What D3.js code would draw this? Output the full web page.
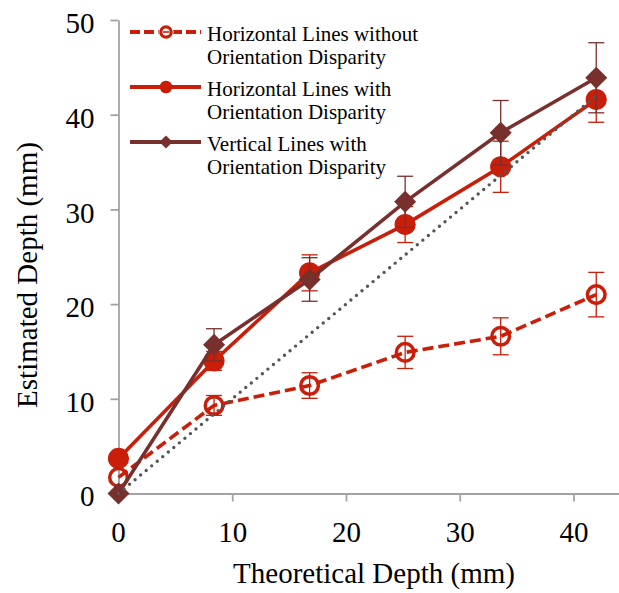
<!DOCTYPE html>
<html>
<head>
<meta charset="utf-8">
<script src="https://cdn.jsdelivr.net/npm/d3@7"></script>
<style>
  html, body { margin: 0; padding: 0; background: #fff; }
  svg { display: block; }
  text { font-family: "Liberation Serif", "Times New Roman", serif; fill: #000; }
</style>
</head>
<body>
<svg id="chart" width="619" height="593"></svg>
<script>
// Theoretical depth of each stimulus (mm)
const theoretical = [0, 8.4, 16.8, 25.2, 33.6, 42];

// Mean estimated depth (mm) and error bar half-widths for each condition
const horizNoDisp = [1.7, 9.3, 11.4, 14.9, 16.6, 21.0];
const horizNoDispErr = [0, 1.05, 1.35, 1.7, 1.95, 2.35];

const horizDisp = [3.7, 14.0, 23.3, 28.4, 34.5, 41.6];
const horizDispErr = [0, 1.0, 1.9, 1.9, 2.7, 2.4];

const vertDisp = [0, 15.7, 22.6, 30.8, 38.1, 43.9];
const vertDispErr = [0, 1.7, 2.3, 2.7, 3.4, 3.7];

const seriesNames = [
  ["Horizontal Lines without", "Orientation Disparity"],
  ["Horizontal Lines with", "Orientation Disparity"],
  ["Vertical Lines with", "Orientation Disparity"]
];

const xTicks = [10, 20, 30, 40];
const yTicks = [10, 20, 30, 40, 50];

const RED = "#c81e0a";
const BROWN = "#78302c";
const TICK_FONT = 29;

const svg = d3.select("#chart");

const x = d3.scaleLinear().domain([0, 44]).range([118.5, 619]);
const y = d3.scaleLinear().domain([0, 50]).range([493.5, 20]);

// Axes
const gx = svg.append("g").attr("transform", `translate(0,${y(0)})`)
  .call(d3.axisBottom(x).tickValues(xTicks).tickSize(8).tickSizeOuter(0).tickFormat(d3.format("d")));
const gy = svg.append("g").attr("transform", `translate(${x(0)},0)`)
  .call(d3.axisLeft(y).tickValues(yTicks).tickSize(8).tickSizeOuter(0).tickFormat(d3.format("d")));
[gx, gy].forEach(g => {
  g.attr("font-family", null).attr("font-size", null);
  g.select(".domain").attr("stroke", "#a3a3a3").attr("stroke-width", 1.8);
  g.selectAll(".tick line").attr("stroke", "#a3a3a3").attr("stroke-width", 1.8);
  g.selectAll(".tick text").style("font-size", TICK_FONT + "px").attr("fill", "#000");
});
gx.selectAll(".tick text").attr("y", 0).attr("dy", "1.66em");
gy.selectAll(".tick text").attr("x", -24).attr("dy", "0.44em");
// the origin labels sit on the axes' zero positions
gx.append("text").attr("x", x(0)).attr("y", 0).attr("dy", "1.66em").attr("text-anchor", "middle")
  .style("font-size", TICK_FONT + "px").attr("fill", "#000").text("0");
gy.append("text").attr("x", -24).attr("y", y(0)).attr("dy", "0.44em").attr("text-anchor", "end")
  .style("font-size", TICK_FONT + "px").attr("fill", "#000").text("0");

// Axis titles
svg.append("text").attr("x", 374).attr("y", 583).attr("text-anchor", "middle")
  .style("font-size", "29px").text("Theoretical Depth (mm)");
svg.append("text").attr("transform", "translate(37,275) rotate(-90)").attr("text-anchor", "middle")
  .style("font-size", "29px").text("Estimated Depth (mm)");

const series = [
  { vals: horizNoDisp, err: horizNoDispErr, color: RED, dash: "11,5", marker: "open" },
  { vals: horizDisp, err: horizDispErr, color: RED, dash: null, marker: "dot" },
  { vals: vertDisp, err: vertDispErr, color: BROWN, dash: null, marker: "diamond" }
];

const line = d3.line().x((d, i) => x(theoretical[i])).y(d => y(d));
const diamond = r => `M0,${-r}L${r},0L0,${r}L${-r},0Z`;

function drawMarker(g, kind, color, scale) {
  if (kind === "open") {
    g.append("circle").attr("r", 8.8 * scale).attr("fill", "none")
      .attr("stroke", color).attr("stroke-width", 3.5 * scale);
  } else if (kind === "dot") {
    g.append("circle").attr("r", 10.6 * scale).attr("fill", color);
  } else {
    g.append("path").attr("d", diamond(11 * scale)).attr("fill", color);
  }
}

series.forEach(s => {
  const g = svg.append("g");
  // error bars
  s.vals.forEach((v, i) => {
    const e = s.err[i];
    if (!e) return;
    const cx = x(theoretical[i]);
    const eb = g.append("g").attr("stroke", s.color).attr("stroke-width", 1.3).attr("fill", "none");
    eb.append("line").attr("x1", cx).attr("x2", cx).attr("y1", y(v - e)).attr("y2", y(v + e));
    eb.append("line").attr("x1", cx - 8).attr("x2", cx + 8).attr("y1", y(v + e)).attr("y2", y(v + e));
    eb.append("line").attr("x1", cx - 8).attr("x2", cx + 8).attr("y1", y(v - e)).attr("y2", y(v - e));
  });
  g.append("path").attr("d", line(s.vals)).attr("fill", "none")
    .attr("stroke", s.color).attr("stroke-width", 3.6)
    .attr("stroke-dasharray", s.dash);
  s.vals.forEach((v, i) => {
    const m = g.append("g").attr("transform", `translate(${x(theoretical[i])},${y(v)})`);
    drawMarker(m, s.marker, s.color, 1);
  });
});

// Reference line: estimated depth equal to theoretical depth
svg.append("line")
  .attr("x1", x(0)).attr("y1", y(0)).attr("x2", x(42)).attr("y2", y(42))
  .attr("stroke", "#555").attr("stroke-width", 3.4)
  .attr("stroke-linecap", "round").attr("stroke-dasharray", "0,7.2");

// Legend
const legend = svg.append("g");
series.forEach((s, k) => {
  const ly = 32 + k * 55;
  legend.append("line").attr("x1", 130).attr("x2", 201).attr("y1", ly).attr("y2", ly)
    .attr("stroke", s.color).attr("stroke-width", 3.8).attr("stroke-dasharray", s.dash ? "10,4" : null);
  const m = legend.append("g").attr("transform", `translate(166,${ly})`);
  if (s.marker === "open") {
    m.append("circle").attr("r", 7.6).attr("fill", "#fff");
    m.append("circle").attr("r", 5.2).attr("fill", "none").attr("stroke", s.color).attr("stroke-width", 3.2);
    m.append("line").attr("x1", -3).attr("x2", 3).attr("stroke", s.color).attr("stroke-width", 1.6);
  } else {
    drawMarker(m, s.marker, s.color, 0.6);
  }
  seriesNames[k].forEach((t, j) => {
    legend.append("text").attr("x", 207).attr("y", 40.7 + k * 55 + j * 23.4)
      .style("font-size", "21px").text(t);
  });
});
</script>
</body>
</html>
